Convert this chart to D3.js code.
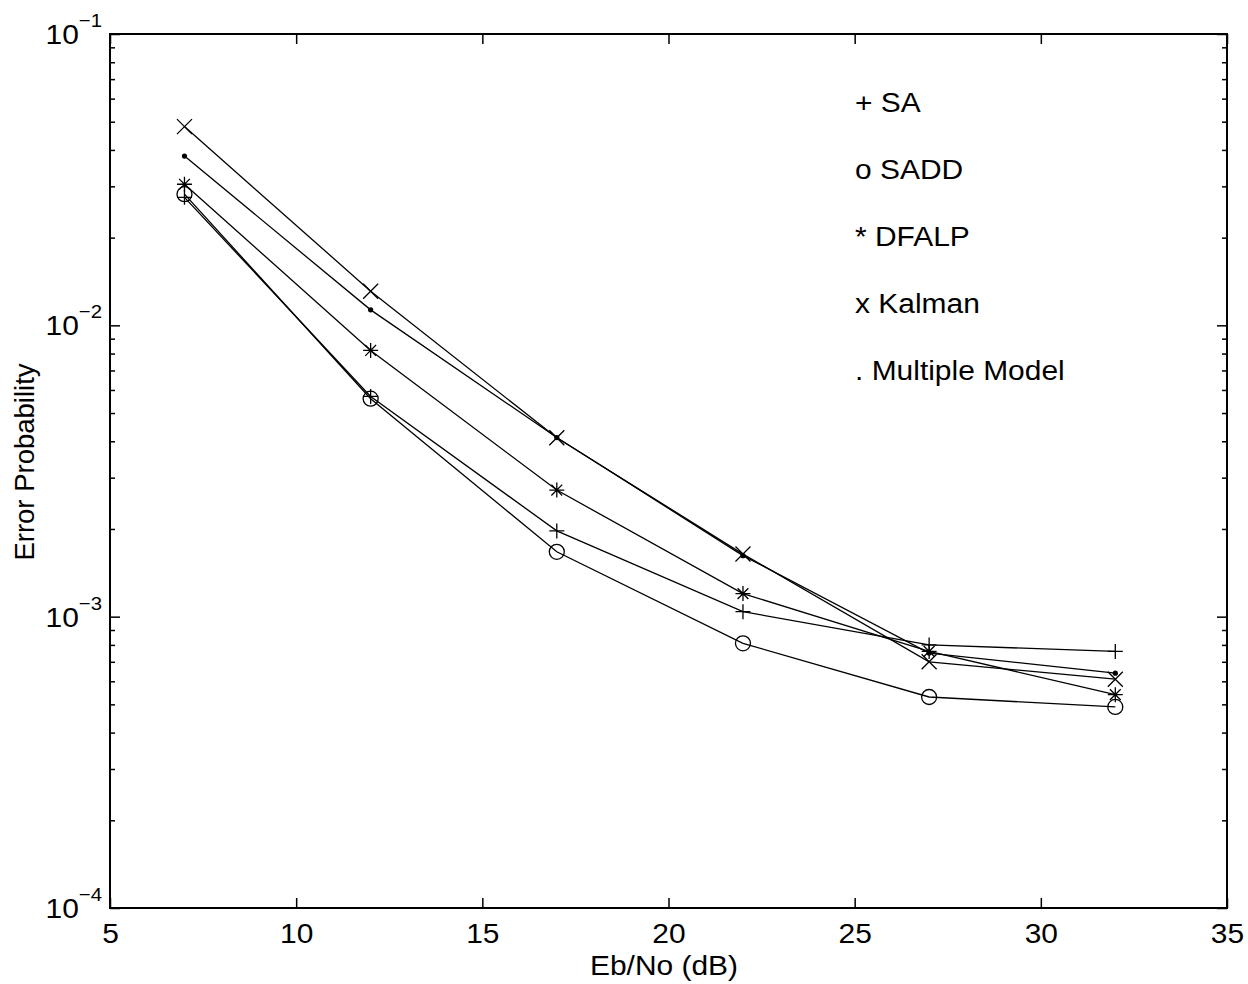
<!DOCTYPE html>
<html>
<head>
<meta charset="utf-8">
<script src="https://cdn.jsdelivr.net/npm/d3@7"></script>
<style>
  html, body { margin: 0; padding: 0; background: #fff; }
  svg { display: block; font-family: "Liberation Sans", Arial, Helvetica, sans-serif; }
</style>
</head>
<body>
<svg id="chart" width="1248" height="984"></svg>
<script>
// Eb/No values (dB) at which each receiver was simulated
const ebno = [7, 12, 17, 22, 27, 32];

// Error probability for each receiver
const saValues      = [0.0275, 0.0057, 0.00197, 0.00104, 0.00080, 0.00076];
const saddValues    = [0.0282, 0.0056, 0.00167, 0.00081, 0.00053, 0.00049];
const dfalpValues   = [0.0305, 0.0082, 0.00272, 0.00120, 0.00076, 0.00054];
const kalmanValues  = [0.0481, 0.0131, 0.00411, 0.00164, 0.00070, 0.00061];
const mmValues      = [0.0381, 0.0113, 0.00412, 0.00162, 0.00075, 0.00064];

const seriesNames   = ["SA", "SADD", "DFALP", "Kalman", "Multiple Model"];
const seriesMarkers = ["plus", "circle", "star", "cross", "dot"];
const legendLabels  = ["+ SA", "o SADD", "* DFALP", "x Kalman", ". Multiple Model"];

const xTicks = [5, 10, 15, 20, 25, 30, 35];
const yExponents = [-1, -2, -3, -4];

const xLabel = "Eb/No (dB)";
const yLabel = "Error Probability";

// ---- layout ----
const plotLeft = 110, plotRight = 1227, plotTop = 34, plotBottom = 908;
const svg = d3.select("#chart");

const x = d3.scaleLinear().domain([5, 35]).range([plotLeft, plotRight]);
const y = d3.scaleLog().domain([1e-4, 1e-1]).range([plotBottom, plotTop]);

const series = [saValues, saddValues, dfalpValues, kalmanValues, mmValues].map((vals, i) => ({
  name: seriesNames[i],
  marker: seriesMarkers[i],
  points: vals.map((v, j) => ({ x: ebno[j], y: v }))
}));

// ---- text settings: slightly wide Helvetica-style lettering ----
const fontSize = 28;
const textStretch = "scale(1.07,1)";

// ---- axes (ticks point inward on all four sides) ----
const majorLen = 10, minorLen = 5;

const bottomAxis = svg.append("g")
  .attr("transform", `translate(0,${plotBottom})`)
  .call(d3.axisBottom(x).tickValues(xTicks).tickSizeInner(-majorLen).tickSizeOuter(0).tickPadding(15));
svg.append("g")
  .attr("transform", `translate(0,${plotTop})`)
  .call(d3.axisTop(x).tickValues(xTicks).tickSizeInner(-majorLen).tickSizeOuter(0).tickFormat(""));

const majorY = yExponents.map(e => Math.pow(10, e));
const minorY = [];
for (let e = -4; e < -1; e++) for (let k = 2; k <= 9; k++) minorY.push(k * Math.pow(10, e));

svg.append("g").attr("transform", `translate(${plotLeft},0)`)
  .call(d3.axisLeft(y).tickValues(majorY).tickSizeInner(-majorLen).tickSizeOuter(0).tickFormat(""));
svg.append("g").attr("transform", `translate(${plotLeft},0)`)
  .call(d3.axisLeft(y).tickValues(minorY).tickSizeInner(-minorLen).tickSizeOuter(0).tickFormat(""));
svg.append("g").attr("transform", `translate(${plotRight},0)`)
  .call(d3.axisRight(y).tickValues(majorY).tickSizeInner(-majorLen).tickSizeOuter(0).tickFormat(""));
svg.append("g").attr("transform", `translate(${plotRight},0)`)
  .call(d3.axisRight(y).tickValues(minorY).tickSizeInner(-minorLen).tickSizeOuter(0).tickFormat(""));

svg.selectAll(".domain").remove();
svg.selectAll(".tick line").attr("stroke", "#000").attr("stroke-width", 1.5);
bottomAxis.selectAll("text")
  .attr("font-size", fontSize)
  .attr("font-family", "Liberation Sans, Arial, sans-serif")
  .attr("fill", "#000")
  .attr("transform", textStretch);

// Decade labels as 10 with a superscript exponent
const yLabels = svg.append("g");
yExponents.forEach(e => {
  const t = yLabels.append("text")
    .attr("transform", `translate(102,${y(Math.pow(10, e)) + 10}) ${textStretch}`)
    .attr("text-anchor", "end")
    .attr("fill", "#000");
  t.append("tspan").attr("font-size", fontSize).text("10");
  t.append("tspan").attr("font-size", 19).attr("dy", -17).text("\u2212" + Math.abs(e));
});

// Plot frame
svg.append("rect")
  .attr("x", plotLeft).attr("y", plotTop)
  .attr("width", plotRight - plotLeft).attr("height", plotBottom - plotTop)
  .attr("fill", "none").attr("stroke", "#000").attr("stroke-width", 2);

// ---- series lines ----
const line = d3.line().x(d => x(d.x)).y(d => y(d.y));
const plot = svg.append("g");
plot.selectAll("path.series")
  .data(series)
  .join("path")
  .attr("class", "series")
  .attr("d", d => line(d.points))
  .attr("fill", "none")
  .attr("stroke", "#000")
  .attr("stroke-width", 1.3);

// ---- markers ----
function markerPath(kind, s) {
  const p = d3.path();
  if (kind === "plus" || kind === "star") {
    p.moveTo(-s, 0); p.lineTo(s, 0);
    p.moveTo(0, -s); p.lineTo(0, s);
  }
  if (kind === "cross" || kind === "star") {
    const d = kind === "star" ? s * 0.72 : s;
    p.moveTo(-d, -d); p.lineTo(d, d);
    p.moveTo(-d, d); p.lineTo(d, -d);
  }
  return p.toString();
}

series.forEach(s => {
  const g = plot.append("g");
  const pts = g.selectAll("g.pt").data(s.points).join("g")
    .attr("transform", d => `translate(${x(d.x)},${y(d.y)})`);
  if (s.marker === "circle") {
    pts.append("circle").attr("r", 7.5).attr("fill", "none").attr("stroke", "#000").attr("stroke-width", 1.3);
  } else if (s.marker === "dot") {
    pts.append("circle").attr("r", 2.6).attr("fill", "#000");
  } else {
    pts.append("path").attr("d", markerPath(s.marker, 7.5))
      .attr("fill", "none").attr("stroke", "#000").attr("stroke-width", 1.3);
  }
});

// ---- text legend ----
svg.append("g").selectAll("text")
  .data(legendLabels)
  .join("text")
  .attr("transform", (d, i) => `translate(855,${112 + i * 67}) ${textStretch}`)
  .attr("font-size", fontSize)
  .attr("fill", "#000")
  .text(d => d);

// ---- axis titles ----
svg.append("text")
  .attr("transform", `translate(664,975) ${textStretch}`)
  .attr("text-anchor", "middle")
  .attr("font-size", fontSize)
  .attr("fill", "#000")
  .text(xLabel);

svg.append("text")
  .attr("transform", `translate(34,${(plotTop + plotBottom) / 2 - 9}) rotate(-90)`)
  .attr("text-anchor", "middle")
  .attr("font-size", 27.5)
  .attr("fill", "#000")
  .text(yLabel);
</script>
</body>
</html>
